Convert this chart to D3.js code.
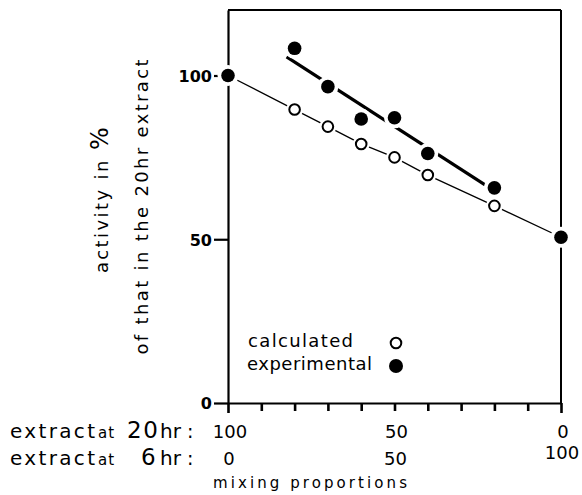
<!DOCTYPE html>
<html>
<head>
<meta charset="utf-8">
<script src="https://cdn.jsdelivr.net/npm/d3@7"></script>
<style>
    body { margin: 0; background: #fff; }
    text { font-family: "DejaVu Sans", sans-serif; fill: #000; }
</style>
</head>
<body>
<div id="chart"></div>
<script>
// share of the 6hr extract in the mix (0 = pure 20hr extract)
var mixShare = [0, 20, 30, 40, 50, 60, 80, 100];
var experimental = [100, 108.3, 96.6, 86.7, 87.1, 76.2, 65.7, 50.6];

var calcShare = [20, 30, 40, 50, 60, 80];
var calculated = [89.6, 84.4, 79.1, 75.0, 69.6, 60.2];

// fitted line drawn through the experimental points
var fitShare = [17.6, 77.2];
var fitValue = [105.7, 66.6];

var yTicks = [0, 50, 100];
var xTicks = [0, 10, 20, 30, 40, 50, 60, 70, 80, 90, 100];
var labelShare = [0, 50, 100];
var labels20hr = ["100", "50", "0"];
var labels6hr = ["0", "50", "100"];

var width = 582;
var height = 495;

var svg = d3.select("#chart").append("svg")
    .attr("width", width)
    .attr("height", height);

var x = d3.scaleLinear().domain([0, 100]).range([228, 561]);
var y = d3.scaleLinear().domain([0, 120]).range([403, 10]);

// frame: top and right sides
svg.append("line")
    .attr("x1", x(0)).attr("y1", y(120))
    .attr("x2", x(100)).attr("y2", y(120))
    .attr("stroke", "#000").attr("stroke-width", 2);
svg.append("line")
    .attr("x1", x(100)).attr("y1", y(120))
    .attr("x2", x(100)).attr("y2", y(0))
    .attr("stroke", "#000").attr("stroke-width", 2);

var yAxis = svg.append("g")
    .attr("transform", "translate(" + x(0) + ",0)")
    .call(d3.axisLeft(y).tickValues(yTicks).tickSize(14).tickSizeOuter(0).tickPadding(2));
yAxis.select(".domain").attr("stroke-width", 2.2);
yAxis.selectAll(".tick line").attr("stroke-width", 2.2);
yAxis.selectAll(".tick text")
    .style("font-family", '"DejaVu Sans", sans-serif')
    .style("font-size", "16px")
    .style("font-weight", "bold")
    .attr("dy", "0.36em");

var xAxis = svg.append("g")
    .attr("transform", "translate(0," + y(0) + ")")
    .call(d3.axisBottom(x).tickValues(xTicks).tickSize(8).tickSizeOuter(0).tickFormat(""));
xAxis.select(".domain").attr("stroke-width", 2.2);
xAxis.selectAll(".tick line")
    .attr("stroke-width", 2.6)
    .attr("y2", function (d) { return (d === 0 || d === 100) ? 10 : 8; });

// calculated: thin line from the two pure extracts through the open circles
var calcPoints = [[mixShare[0], experimental[0]]];
calcShare.forEach(function (s, i) { calcPoints.push([s, calculated[i]]); });
calcPoints.push([mixShare[mixShare.length - 1], experimental[experimental.length - 1]]);

var line = d3.line()
    .x(function (d) { return x(d[0]); })
    .y(function (d) { return y(d[1]); });

svg.append("path")
    .datum(calcPoints)
    .attr("d", line)
    .attr("fill", "none")
    .attr("stroke", "#000")
    .attr("stroke-width", 1.3);

svg.append("path")
    .datum([[fitShare[0], fitValue[0]], [fitShare[1], fitValue[1]]])
    .attr("d", line)
    .attr("fill", "none")
    .attr("stroke", "#000")
    .attr("stroke-width", 3.2);

// white halos break the lines around each marker, as in the print
svg.append("g").selectAll("circle")
    .data(mixShare)
    .enter().append("circle")
    .attr("cx", function (d) { return x(d); })
    .attr("cy", function (d, i) { return y(experimental[i]); })
    .attr("r", 10.5)
    .attr("fill", "#fff");
svg.append("g").selectAll("circle")
    .data(calcShare)
    .enter().append("circle")
    .attr("cx", function (d) { return x(d); })
    .attr("cy", function (d, i) { return y(calculated[i]); })
    .attr("r", 8.5)
    .attr("fill", "#fff");

svg.append("g").selectAll("circle")
    .data(calcShare)
    .enter().append("circle")
    .attr("cx", function (d) { return x(d); })
    .attr("cy", function (d, i) { return y(calculated[i]); })
    .attr("r", 5.3)
    .attr("fill", "#fff")
    .attr("stroke", "#000")
    .attr("stroke-width", 2);
svg.append("g").selectAll("circle")
    .data(mixShare)
    .enter().append("circle")
    .attr("cx", function (d) { return x(d); })
    .attr("cy", function (d, i) { return y(experimental[i]); })
    .attr("r", 6.8)
    .attr("fill", "#000");

// legend
svg.append("text").attr("x", 248).attr("y", 347)
    .attr("textLength", 105).attr("lengthAdjust", "spacing")
    .style("font-size", "18px").text("calculated");
svg.append("text").attr("x", 247).attr("y", 370)
    .attr("textLength", 125).attr("lengthAdjust", "spacing")
    .style("font-size", "18px").text("experimental");
svg.append("circle").attr("cx", 396).attr("cy", 343).attr("r", 5.3)
    .attr("fill", "#fff").attr("stroke", "#000").attr("stroke-width", 2);
svg.append("circle").attr("cx", 396).attr("cy", 366).attr("r", 7)
    .attr("fill", "#000");

// y axis title, two rotated lines
var t1 = svg.append("text")
    .attr("transform", "translate(108,199) rotate(-90)")
    .attr("text-anchor", "middle")
    .style("font-size", "18px")
    .style("letter-spacing", "2.4px");
t1.append("tspan").text("activity in ");
t1.append("tspan").style("font-size", "24px").text("%");

svg.append("text")
    .attr("transform", "translate(148,207) rotate(-90)")
    .attr("text-anchor", "middle")
    .attr("textLength", 295).attr("lengthAdjust", "spacing")
    .style("font-size", "18px")
    .text("of that in the 20hr extract");

// mixing proportion labels under the x axis
svg.append("g").selectAll("text")
    .data(labelShare)
    .enter().append("text")
    .attr("x", function (d) { return x(d) + 2; })
    .attr("y", 438)
    .attr("text-anchor", "middle")
    .style("font-size", "18px")
    .text(function (d, i) { return labels20hr[i]; });
svg.append("g").selectAll("text")
    .data(labelShare)
    .enter().append("text")
    .attr("x", function (d) { return x(d) + 1; })
    .attr("y", function (d) { return d === 100 ? 459 : 465; })
    .attr("text-anchor", "middle")
    .style("font-size", "18px")
    .text(function (d, i) { return labels6hr[i]; });

function rowLabel(base, big, bigX, bigW) {
    svg.append("text").attr("x", 10).attr("y", base)
        .attr("textLength", 85).attr("lengthAdjust", "spacing")
        .style("font-size", "20px").text("extract");
    svg.append("text").attr("x", 98).attr("y", base)
        .style("letter-spacing", "1px")
        .style("font-size", "15px").text("at");
    svg.append("text").attr("x", bigX).attr("y", base)
        .attr("textLength", bigW).attr("lengthAdjust", "spacing")
        .style("font-size", "23px").text(big);
    svg.append("text").attr("x", 160).attr("y", base)
        .style("font-size", "20px").text("hr");
    svg.append("text").attr("x", 187).attr("y", base)
        .style("font-size", "19px").text(":");
}
rowLabel(438, "20", 127, 31);
rowLabel(465, "6", 141, 16);

svg.append("text").attr("x", 213).attr("y", 488)
    .attr("textLength", 194).attr("lengthAdjust", "spacing")
    .style("font-size", "15px").text("mixing proportions");
</script>
</body>
</html>
